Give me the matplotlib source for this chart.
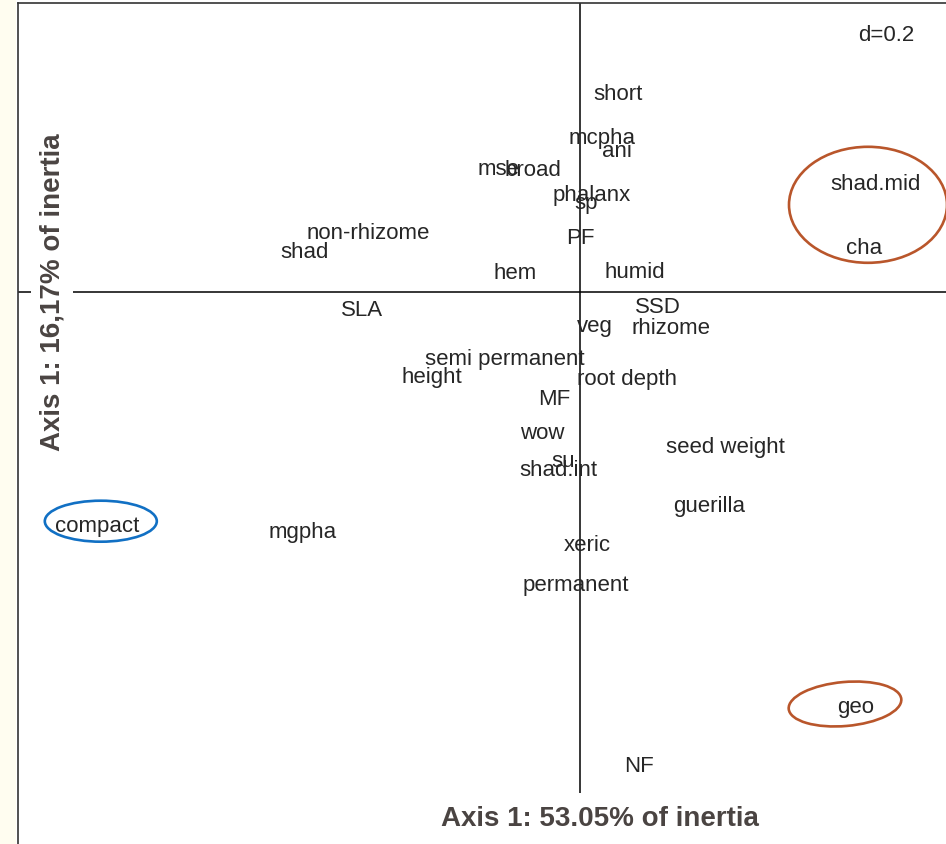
import matplotlib.pyplot as plt
from matplotlib.patches import Ellipse, Rectangle

plt.rcParams['font.family'] = ['Liberation Sans', 'DejaVu Sans']

# factor scores of the trait modalities (axis 1, axis 2)
labels = ["short", "mcpha", "ani", "mse", "broad", "phalanx", "sp", "shad.mid",
          "non-rhizome", "shad", "PF", "cha", "hem", "humid", "SLA", "SSD",
          "veg", "rhizome", "semi permanent", "height", "root depth", "MF",
          "wow", "seed weight", "su", "shad.int", "guerilla", "compact",
          "mgpha", "xeric", "permanent", "geo", "NF"]
axis1 = [0.095, 0.055, 0.093, -0.203, -0.118, 0.028, 0.015, 0.74,
         -0.53, -0.688, 0.0, 0.71, -0.163, 0.138, -0.545, 0.195,
         0.038, 0.228, -0.188, -0.37, 0.118, -0.065,
         -0.095, 0.363, -0.043, -0.053, 0.323, -1.208,
         -0.693, 0.018, -0.01, 0.69, 0.148]
axis2 = [0.503, 0.393, 0.36, 0.315, 0.313, 0.25, 0.23, 0.278,
         0.155, 0.108, 0.143, 0.118, 0.055, 0.058, -0.038, -0.03,
         -0.078, -0.083, -0.16, -0.205, -0.21, -0.26,
         -0.345, -0.38, -0.415, -0.438, -0.528, -0.578,
         -0.593, -0.625, -0.725, -1.03, -1.178]

# groups circled by hand on the figure
groups = [["shad.mid", "cha"], ["geo"], ["compact"]]
group_colors = ["#b9562b", "#b9562b", "#1170c4"]
group_shift = [(-0.005, 0.02), (-0.0275, 0.0), (0.01, 0.005)]
group_size = [(0.395, 0.29), (0.2825, 0.11), (0.28, 0.1025)]
group_angle = [0, 5, 0]

fig = plt.figure(figsize=(9.46, 8.45), dpi=100, facecolor="#fffdf0")
fig.patches.append(Rectangle((16 / 946, 0), 1, 1, transform=fig.transFigure,
                             facecolor="white", edgecolor="none", zorder=-10))
ax = fig.add_axes([18 / 946, -15 / 845, 942 / 946, 856 / 845])
ax.set_xlim(-1.405, 0.95)
ax.set_ylim(-1.4175, 0.7225)
ax.set_xticks([])
ax.set_yticks([])
for s in ax.spines.values():
    s.set_linewidth(1.2)
    s.set_color("#333333")

ax.axhline(0, color="black", lw=1.1, zorder=1)
ax.axvline(0, color="black", lw=1.1, zorder=1)

for lab, x, y in zip(labels, axis1, axis2):
    ax.text(x, y, lab, ha="center", va="center_baseline", fontsize=16,
            color="#262626", zorder=3)

for grp, col, sh, sz, ang in zip(groups, group_colors, group_shift, group_size, group_angle):
    xs = [axis1[labels.index(g)] for g in grp]
    ys = [axis2[labels.index(g)] for g in grp]
    cx = sum(xs) / len(xs) + sh[0]
    cy = sum(ys) / len(ys) + sh[1]
    ax.add_patch(Ellipse((cx, cy), sz[0], sz[1], angle=ang, fill=False,
                         edgecolor=col, lw=1.9, zorder=4))

fig.text(886 / 946, 1 - 33 / 845, "d=0.2", ha="center", va="center_baseline",
         fontsize=16, color="#262626")
fig.text(600 / 946, 1 - 816 / 845, "Axis 1: 53.05% of inertia", ha="center",
         va="center_baseline", fontsize=20, fontweight="bold", color="#4a4442",
         bbox=dict(facecolor="white", edgecolor="none", pad=9))
fig.text(52 / 946, 1 - 292 / 845, "Axis 1: 16,17% of inertia", ha="center",
         va="center", rotation=90, fontsize=20, fontweight="bold", color="#4a4442",
         bbox=dict(facecolor="white", edgecolor="none", pad=6))

fig.savefig("out.png", dpi=100, facecolor=fig.get_facecolor())
